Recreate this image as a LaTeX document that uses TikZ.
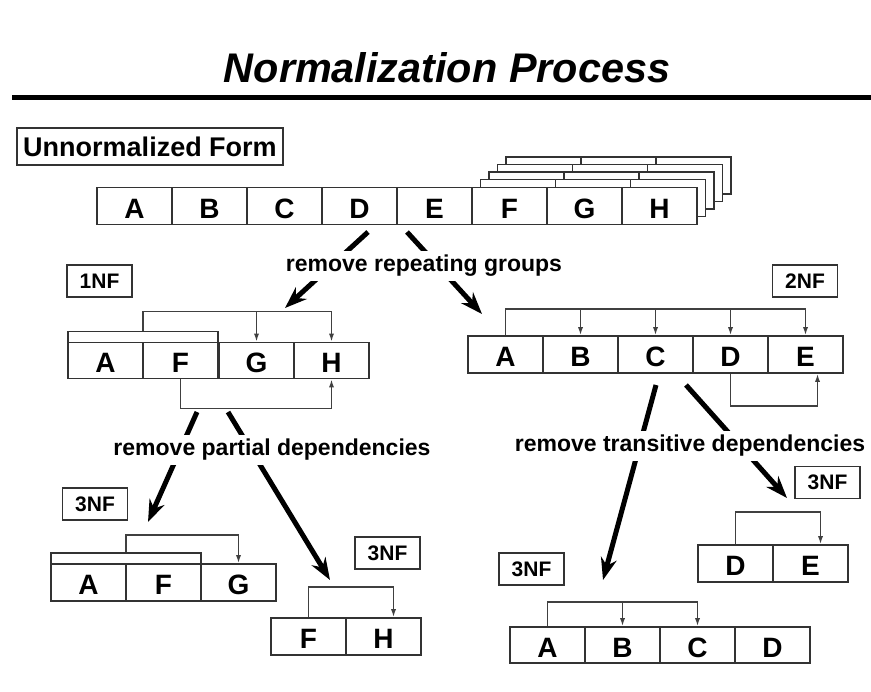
\documentclass[tikz,border=0pt]{standalone}
\usepackage{fontspec}
\setmainfont{Liberation Sans}
\usetikzlibrary{arrows.meta}

\begin{document}
\begin{tikzpicture}[x=0.5pt,y=-0.5pt,
        cell/.style={draw=black!80,fill=white,line width=0.9pt,minimum width=37.5pt,minimum height=18.5pt,inner sep=0pt,
                     text height=12pt,text depth=0pt,font=\fontsize{14}{14}\selectfont\bfseries},
        keybar/.style={draw=black!80,fill=white,line width=0.9pt,minimum width=75pt,minimum height=5.5pt,inner sep=0pt},
        tag/.style={draw=black!80,fill=white,line width=0.9pt,minimum width=32.5pt,minimum height=16pt,inner sep=0pt,font=\fontsize{10.5}{10.5}\selectfont\bfseries},
        copy/.style={draw=black!80,fill=white,line width=0.9pt},
        dep/.style={draw=black!75,line width=0.7pt,-{Latex[length=4pt,width=2.6pt]}},
        bigarrow/.style={line width=2.5pt,-{Stealth[length=11pt,width=8pt]}},
        note/.style={fill=white,inner sep=2pt,font=\fontsize{11.5}{11.5}\selectfont\bfseries}]

    \useasboundingbox (0,0) rectangle (871,691);

    % title
    \node[font=\fontsize{20.7}{20.7}\selectfont\bfseries\itshape] (title) at (447,68) {Normalization Process};
    \draw[line width=2.5pt] (12,97) -- (871,97);

    % unnormalized form
    \node[draw=black!80,line width=0.9pt,minimum width=133pt,minimum height=18.5pt,inner sep=0pt,
          font=\fontsize{13.5}{13.5}\selectfont\bfseries] (unf) at (150,146.5) {Unnormalized Form};

    \filldraw[copy] (506,157) rectangle (731,194);
    \draw[copy] (581,157) -- (581,194) (656,157) -- (656,194);
    \filldraw[copy] (497.5,164.5) rectangle (722.5,201.5);
    \draw[copy] (572.5,164.5) -- (572.5,201.5) (647.5,164.5) -- (647.5,201.5);
    \filldraw[copy] (489,172) rectangle (714,209);
    \draw[copy] (564,172) -- (564,209) (639,172) -- (639,209);
    \filldraw[copy] (480.5,179.5) rectangle (705.5,216.5);
    \draw[copy] (555.5,179.5) -- (555.5,216.5) (630.5,179.5) -- (630.5,216.5);

    \node[cell] (ua) at (134.5,206) {A};
    \node[cell] (ub) at (209.5,206) {B};
    \node[cell] (uc) at (284.5,206) {C};
    \node[cell] (ud) at (359.5,206) {D};
    \node[cell] (ue) at (434.5,206) {E};
    \node[cell] (uf) at (509.5,206) {F};
    \node[cell] (ug) at (584.5,206) {G};
    \node[cell] (uh) at (659.5,206) {H};

    % remove repeating groups
    \coordinate (rgl) at (368,232);
    \coordinate (rgr) at (407,232);
    \coordinate (rgla) at (285,308);
    \coordinate (rgra) at (482,314);
    \draw[bigarrow] (rgl) -- (rgla);
    \draw[bigarrow] (rgr) -- (rgra);
    \node[note] (rg) at (424,266) {remove repeating groups};

    % 1NF
    \node[tag] (nf1) at (99.5,281) {1NF};
    \node[keybar] (key1) at (143,337) {};
    \node[cell,minimum height=18pt] (a1) at (105.5,360.5) {A};
    \node[cell,minimum height=18pt] (f1) at (180.5,360.5) {F};
    \node[cell,minimum height=18pt] (g1) at (256.5,360.5) {G};
    \node[cell,minimum height=18pt] (h1) at (331.5,360.5) {H};
    \draw[dep] (key1.north) -- ++(0,-19) -| (g1.north);
    \draw[dep] (key1.north) ++(0,-19) -| (h1.north);
    \draw[dep] (f1.south) -- ++(0,29) -| (h1.south);

    % 2NF
    \node[tag] (nf2) at (805,281) {2NF};
    \node[cell] (a2) at (505.5,354.5) {A};
    \node[cell] (b2) at (580.5,354.5) {B};
    \node[cell] (c2) at (655.5,354.5) {C};
    \node[cell] (d2) at (730.5,354.5) {D};
    \node[cell] (e2) at (805.5,354.5) {E};
    \draw[dep] (a2.north) -- ++(0,-26) -| (e2.north);
    \draw[dep] (a2.north) ++(0,-26) -| (b2.north);
    \draw[dep] (a2.north) ++(0,-26) -| (c2.north);
    \draw[dep] (a2.north) ++(0,-26) -| (d2.north);
    \draw[dep] (d2.south) -- ++(0,32) -| ([xshift=6pt]e2.south);

    % remove partial dependencies
    \coordinate (pdl) at (197,412);
    \coordinate (pdr) at (228,412);
    \coordinate (pdla) at (148,522);
    \coordinate (pdra) at (330,580);
    \draw[bigarrow] (pdl) -- (pdla);
    \draw[bigarrow] (pdr) -- (pdra);
    \node[note] (pd) at (272,450) {remove partial dependencies};

    % remove transitive dependencies
    \coordinate (tdl) at (656,385);
    \coordinate (tdr) at (686,385);
    \coordinate (tdla) at (603,580);
    \coordinate (tdra) at (787,498);
    \draw[bigarrow] (tdl) -- (tdla);
    \draw[bigarrow] (tdr) -- (tdra);
    \node[note] (td) at (690,446) {remove transitive dependencies};

    % 3NF: A F G
    \node[tag] (nf3) at (95,504) {3NF};
    \node[keybar] (key3) at (126,558.5) {};
    \node[cell] (a3) at (88.5,582.5) {A};
    \node[cell] (f3) at (163.5,582.5) {F};
    \node[cell] (g3) at (238.5,582.5) {G};
    \draw[dep] (key3.north) -- ++(0,-17) -| (g3.north);

    % 3NF: F H
    \node[tag] (nf4) at (387.5,553) {3NF};
    \node[cell] (f4) at (308.5,636.5) {F};
    \node[cell] (h4) at (383.5,636.5) {H};
    \draw[dep] (f4.north) -- ++(0,-30) -| ([xshift=5pt]h4.north);

    % 3NF: D E
    \node[tag] (nf5) at (827.5,482.5) {3NF};
    \node[cell] (d5) at (735.5,563.5) {D};
    \node[cell] (e5) at (810.5,563.5) {E};
    \draw[dep] (d5.north) -- ++(0,-32) -| ([xshift=5pt]e5.north);

    % 3NF: A B C D
    \node[tag] (nf6) at (531.5,569) {3NF};
    \node[cell,minimum height=18pt] (a6) at (547.5,645) {A};
    \node[cell,minimum height=18pt] (b6) at (622.5,645) {B};
    \node[cell,minimum height=18pt] (c6) at (697.5,645) {C};
    \node[cell,minimum height=18pt] (d6) at (772.5,645) {D};
    \draw[dep] (a6.north) -- ++(0,-24) -| (c6.north);
    \draw[dep] (a6.north) ++(0,-24) -| (b6.north);
    \end{tikzpicture}
\end{document}
